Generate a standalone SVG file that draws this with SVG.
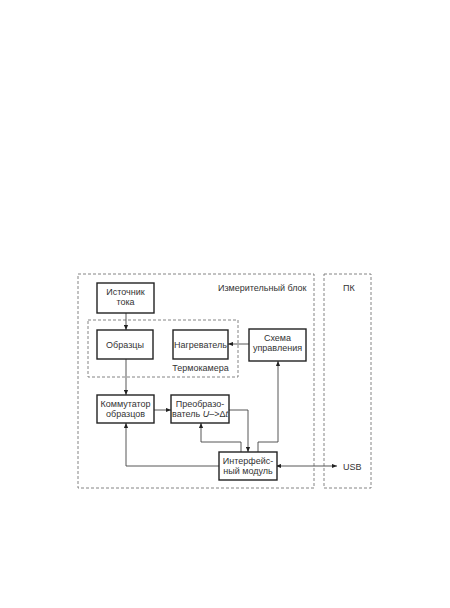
<svg xmlns="http://www.w3.org/2000/svg" width="450" height="608" viewBox="0 0 450 608">
<style>
.box{fill:#fff;stroke:#222;stroke-width:1.4}
.dash{fill:none;stroke:#777;stroke-width:0.9;stroke-dasharray:3 2}
.ln{fill:none;stroke:#444;stroke-width:0.9}
text{font-family:"Liberation Sans",Arial,sans-serif;font-size:9px;fill:#333}
.c{text-anchor:middle}
</style>
<defs>
<marker id="ah" viewBox="0 0 6 6" refX="6" refY="3" markerWidth="5" markerHeight="5" orient="auto" markerUnits="userSpaceOnUse">
<path d="M0,0.5 L6,3 L0,5.5 Z" fill="#222"/>
</marker>
<marker id="as" viewBox="0 0 6 6" refX="0" refY="3" markerWidth="5" markerHeight="5" orient="auto" markerUnits="userSpaceOnUse">
<path d="M6,0.5 L0,3 L6,5.5 Z" fill="#222"/>
</marker>
</defs>
<rect width="450" height="608" fill="#fff"/>
<g id="measure-block">
<rect class="dash" x="78" y="274" width="236" height="214"/>
<text x="218" y="291">Измерительный блок</text>
</g>
<g id="pc">
<rect class="dash" x="324" y="274" width="47" height="214"/>
<text x="343" y="291">ПК</text>
</g>
<g id="thermo">
<rect class="dash" x="88" y="320" width="150" height="57"/>
<text class="c" x="200.5" y="371">Термокамера</text>
</g>
<g id="connectors">
<path class="ln" d="M126,313 V330" marker-end="url(#ah)"/>
<path class="ln" d="M126,359 V395" marker-end="url(#ah)"/>
<path class="ln" d="M249,344 H228" marker-end="url(#ah)"/>
<path class="ln" d="M154,410 H171" marker-end="url(#ah)"/>
<path class="ln" d="M229,410 H248 V452" marker-end="url(#ah)"/>
<path class="ln" d="M241,452 V442 H201 V423" marker-end="url(#ah)"/>
<path class="ln" d="M258,452 V442 H278 V361" marker-end="url(#ah)"/>
<path class="ln" d="M220,466 H126 V423" marker-end="url(#ah)"/>
<path class="ln" d="M276,466 H337" marker-start="url(#as)" marker-end="url(#ah)"/>
</g>
<g id="source">
<rect class="box" x="97" y="283" width="57" height="30"/>
<text class="c" x="125.5" y="295">Источник</text>
<text class="c" x="125.5" y="305">тока</text>
</g>
<g id="samples">
<rect class="box" x="97" y="330" width="56" height="29"/>
<text class="c" x="125" y="348">Образцы</text>
</g>
<g id="heater">
<rect class="box" x="173" y="330" width="55" height="29"/>
<text class="c" x="200.5" y="348" font-size="8.7">Нагреватель</text>
</g>
<g id="control">
<rect class="box" x="249" y="329" width="57" height="32"/>
<text class="c" x="277.5" y="341">Схема</text>
<text class="c" x="277.5" y="351">управления</text>
</g>
<g id="switch">
<rect class="box" x="97" y="395" width="57" height="28"/>
<text class="c" x="125.5" y="407">Коммутатор</text>
<text class="c" x="125.5" y="417">образцов</text>
</g>
<g id="converter">
<rect class="box" x="171" y="395" width="58" height="28"/>
<text class="c" x="200" y="407">Преобразо-</text>
<text class="c" x="200" y="417" font-size="8.5">ватель <tspan font-style="italic">U</tspan>–&gt;Δ<tspan font-style="italic">t</tspan></text>
</g>
<g id="interface">
<rect class="box" x="219" y="452" width="58" height="28"/>
<text class="c" x="248" y="464">Интерфейс-</text>
<text class="c" x="248" y="474">ный модуль</text>
</g>
<g id="usb">
<text x="343" y="470">USB</text>
</g>
</svg>
